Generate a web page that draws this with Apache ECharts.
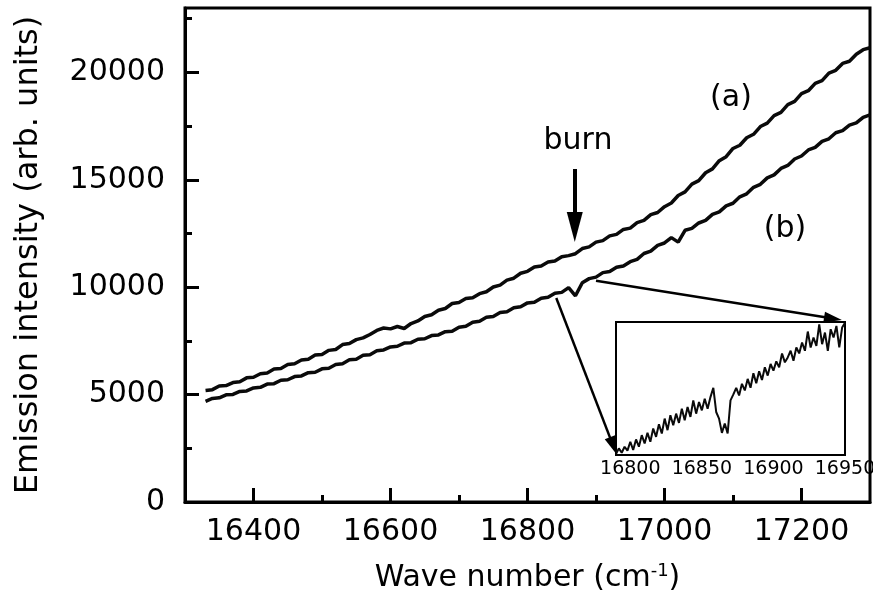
<!DOCTYPE html>
<html>
<head>
<meta charset="utf-8">
<script src="https://cdn.jsdelivr.net/npm/echarts@6/dist/echarts.min.js"></script>
<style>
  html, body { margin: 0; padding: 0; background: #fff; }
  #chart { width: 873px; height: 609px; }
</style>
</head>
<body>
<div id="chart"></div>
<script>
const FONT = "DejaVu Sans";

const waveNumber = [
  16330, 16340, 16350, 16360, 16370, 16380, 16390,
  16400, 16410, 16420, 16430, 16440, 16450, 16460, 16470, 16480, 16490,
  16500, 16510, 16520, 16530, 16540, 16550, 16560, 16570, 16580, 16590,
  16600, 16610, 16620, 16630, 16640, 16650, 16660, 16670, 16680, 16690,
  16700, 16710, 16720, 16730, 16740, 16750, 16760, 16770, 16780, 16790,
  16800, 16810, 16820, 16830, 16840, 16850, 16860, 16870, 16880, 16890,
  16900, 16910, 16920, 16930, 16940, 16950, 16960, 16970, 16980, 16990,
  17000, 17010, 17020, 17030, 17040, 17050, 17060, 17070, 17080, 17090,
  17100, 17110, 17120, 17130, 17140, 17150, 17160, 17170, 17180, 17190,
  17200, 17210, 17220, 17230, 17240, 17250, 17260, 17270, 17280, 17290,
  17300,
];

// curve (a)
const intensityA = [
  5190, 5230, 5400, 5420, 5560, 5600, 5780,
  5810, 5970, 6010, 6190, 6220, 6400, 6440, 6610, 6650, 6840,
  6870, 7060, 7100, 7330, 7380, 7560, 7640, 7800, 7990, 8100,
  8060, 8170, 8080, 8310, 8430, 8640, 8720, 8930, 9010, 9240,
  9290, 9470, 9510, 9700, 9790, 10010, 10100, 10330, 10420, 10650,
  10740, 10940, 10990, 11170, 11220, 11420, 11470, 11560, 11800, 11880,
  12100, 12170, 12390, 12460, 12690, 12750, 13010, 13110, 13380, 13480,
  13750, 13920, 14270, 14440, 14800, 14960, 15330, 15510, 15890, 16080,
  16460, 16610, 16960, 17120, 17480, 17640, 17990, 18140, 18500, 18650,
  19010, 19150, 19490, 19620, 19970, 20100, 20420, 20520, 20850, 21060,
  21150,
];

// curve (b), after the burn
const intensityB = [
  4690, 4820, 4850, 4990, 5010, 5150, 5170,
  5310, 5340, 5490, 5510, 5670, 5690, 5840, 5870, 6020, 6040,
  6200, 6230, 6400, 6440, 6620, 6650, 6830, 6860, 7040, 7080,
  7220, 7250, 7400, 7420, 7580, 7600, 7750, 7780, 7930, 7950,
  8140, 8180, 8370, 8420, 8600, 8640, 8820, 8860, 9040, 9090,
  9270, 9300, 9490, 9530, 9720, 9760, 9980, 9600, 10210, 10400,
  10470, 10680, 10730, 10930, 10990, 11190, 11300, 11570, 11680, 11950,
  12060, 12310, 12100, 12650, 12740, 12990, 13110, 13390, 13510, 13790,
  13910, 14210, 14350, 14650, 14790, 15090, 15230, 15530, 15670, 15970,
  16110, 16390, 16510, 16790, 16910, 17190, 17290, 17550, 17650, 17910,
  18020,
];

// inset: zoom of curve (b) around the hole
const insetWave = [
  16790, 16792, 16794, 16796, 16798, 16800, 16802, 16804, 16806, 16808,
  16810, 16812, 16814, 16816, 16818, 16820, 16822, 16824, 16826, 16828,
  16830, 16832, 16834, 16836, 16838, 16840, 16842, 16844, 16846, 16848,
  16850, 16852, 16854, 16856, 16858, 16860, 16862, 16864, 16866, 16868,
  16870, 16872, 16874, 16876, 16878, 16880, 16882, 16884, 16886, 16888,
  16890, 16892, 16894, 16896, 16898, 16900, 16902, 16904, 16906, 16908,
  16910, 16912, 16914, 16916, 16918, 16920, 16922, 16924, 16926, 16928,
  16930, 16932, 16934, 16936, 16938, 16940, 16942, 16944, 16946, 16948,
  16950,
];
const insetIntensity = [
  9116, 9204, 9136, 9230, 9168, 9308, 9178, 9344, 9230, 9412,
  9282, 9448, 9308, 9516, 9386, 9584, 9438, 9672, 9490, 9724,
  9568, 9750, 9604, 9828, 9646, 9854, 9698, 9958, 9750, 9932,
  9802, 9984, 9828, 10010, 10156, 9776, 9672, 9448, 9594, 9438,
  9958, 10052, 10156, 10036, 10218, 10114, 10296, 10156, 10384, 10228,
  10416, 10280, 10478, 10348, 10530, 10426, 10572, 10478, 10696, 10556,
  10634, 10738, 10582, 10790, 10696, 10868, 10738, 11040, 10790, 10946,
  10816, 11154, 10842, 11024, 10738, 11076, 10946, 11128, 10790, 11102,
  11180,
];

const xTicks = [16400, 16600, 16800, 17000, 17200];
const xMinorTicks = [16500, 16700, 16900, 17100];
const yTicks = [0, 5000, 10000, 15000, 20000];
const yMinorTicks = [2500, 7500, 12500, 17500, 22500];
const insetTicks = [16800, 16850, 16900, 16950];

const pairs = (xs, ys) => xs.map((x, i) => [x, ys[i]]);
const plain = (v) => String(v);

const myChart = echarts.init(document.getElementById("chart"));

const tickLine = { color: "#000", width: 3 };

let option = {
  backgroundColor: "#fff",
  animation: false,
  grid: [
    {
      left: 185, right: 3, top: 8, bottom: 107,
      outerBoundsMode: "none",
      show: true, borderColor: "#000", borderWidth: 3,
    },
    {
      left: 616, top: 322, width: 229, height: 133,
      outerBoundsMode: "none",
      show: true, backgroundColor: "#fff", borderColor: "#000", borderWidth: 2,
    },
  ],
  xAxis: [
    {
      type: "value",
      min: 16300,
      max: 17300,
      axisLine: { show: true, lineStyle: tickLine },
      axisTick: { inside: true, length: 14, lineStyle: tickLine, customValues: xTicks },
      axisLabel: {
        customValues: xTicks,
        formatter: plain,
        color: "#000", fontSize: 30, fontFamily: FONT, margin: 15,
      },
      splitLine: { show: false },
      name: "Wave number (cm{sup|-1})",
      nameLocation: "middle",
      nameGap: 60,
      nameTextStyle: {
        color: "#000", fontSize: 30, fontFamily: FONT,
        rich: {
          sup: { fontSize: 18, fontFamily: FONT, color: "#000", verticalAlign: "top", padding: [0, 0, 14, 0] },
        },
      },
    },
    {
      type: "value",
      position: "bottom",
      min: 16300,
      max: 17300,
      axisLine: { show: false },
      axisTick: { inside: true, length: 7, lineStyle: tickLine, customValues: xMinorTicks },
      axisLabel: { show: false },
      splitLine: { show: false },
    },
    {
      type: "value",
      gridIndex: 1,
      min: 16790,
      max: 16950,
      axisLine: { show: false },
      axisTick: { show: false },
      axisLabel: {
        customValues: insetTicks,
        formatter: plain,
        color: "#000", fontSize: 19, fontFamily: FONT, margin: 5,
      },
      splitLine: { show: false },
    },
  ],
  yAxis: [
    {
      type: "value",
      min: 0,
      max: 23000,
      axisLine: { show: true, lineStyle: tickLine },
      axisTick: { inside: true, length: 14, lineStyle: tickLine, customValues: yTicks },
      axisLabel: {
        customValues: yTicks,
        formatter: plain,
        color: "#000", fontSize: 30, fontFamily: FONT, margin: 20,
      },
      splitLine: { show: false },
      name: "Emission intensity (arb. units)",
      nameLocation: "middle",
      nameRotate: 90,
      nameGap: 140,
      nameTextStyle: { color: "#000", fontSize: 32, fontFamily: FONT },
    },
    {
      type: "value",
      position: "left",
      min: 0,
      max: 23000,
      axisLine: { show: false },
      axisTick: { inside: true, length: 7, lineStyle: tickLine, customValues: yMinorTicks },
      axisLabel: { show: false },
      splitLine: { show: false },
    },
    {
      type: "value",
      gridIndex: 1,
      min: 9100,
      max: 11190,
      show: false,
    },
  ],
  graphic: [
    { type: "text", x: 731, y: 98, style: { text: "(a)", font: "30px " + FONT, fill: "#000", align: "center", verticalAlign: "middle" } },
    { type: "text", x: 785, y: 229, style: { text: "(b)", font: "30px " + FONT, fill: "#000", align: "center", verticalAlign: "middle" } },
    { type: "text", x: 578, y: 141, style: { text: "burn", font: "30px " + FONT, fill: "#000", align: "center", verticalAlign: "middle" } },
  ],
  series: [
    {
      name: "(a)",
      type: "line",
      showSymbol: false,
      lineStyle: { color: "#0a0a0a", width: 3.5 },
      data: pairs(waveNumber, intensityA),
      markLine: {
        silent: true,
        symbol: ["none", "triangle"],
        label: { show: false },
        emphasis: { disabled: true },
        data: [
          [
            { coord: [16869, 15505], lineStyle: { color: "#000", width: 4, type: "solid" } },
            { coord: [16869, 12804], symbolSize: [16, 30] },
          ],
          [
            { coord: [16900, 10304], lineStyle: { color: "#000", width: 2.5, type: "solid" } },
            { coord: [17246, 8539], symbolSize: [11, 18] },
          ],
          [
            { coord: [16842, 9498], lineStyle: { color: "#000", width: 2.5, type: "solid" } },
            { coord: [16925, 2626], symbolSize: [11, 18] },
          ],
        ],
      },
    },
    {
      name: "(b)",
      type: "line",
      showSymbol: false,
      lineStyle: { color: "#0a0a0a", width: 3.5 },
      data: pairs(waveNumber, intensityB),
    },
    {
      name: "inset",
      type: "line",
      xAxisIndex: 2,
      yAxisIndex: 2,
      showSymbol: false,
      lineStyle: { color: "#0a0a0a", width: 2 },
      data: pairs(insetWave, insetIntensity),
    },
  ],
};

myChart.setOption(option);
</script>
</body>
</html>
